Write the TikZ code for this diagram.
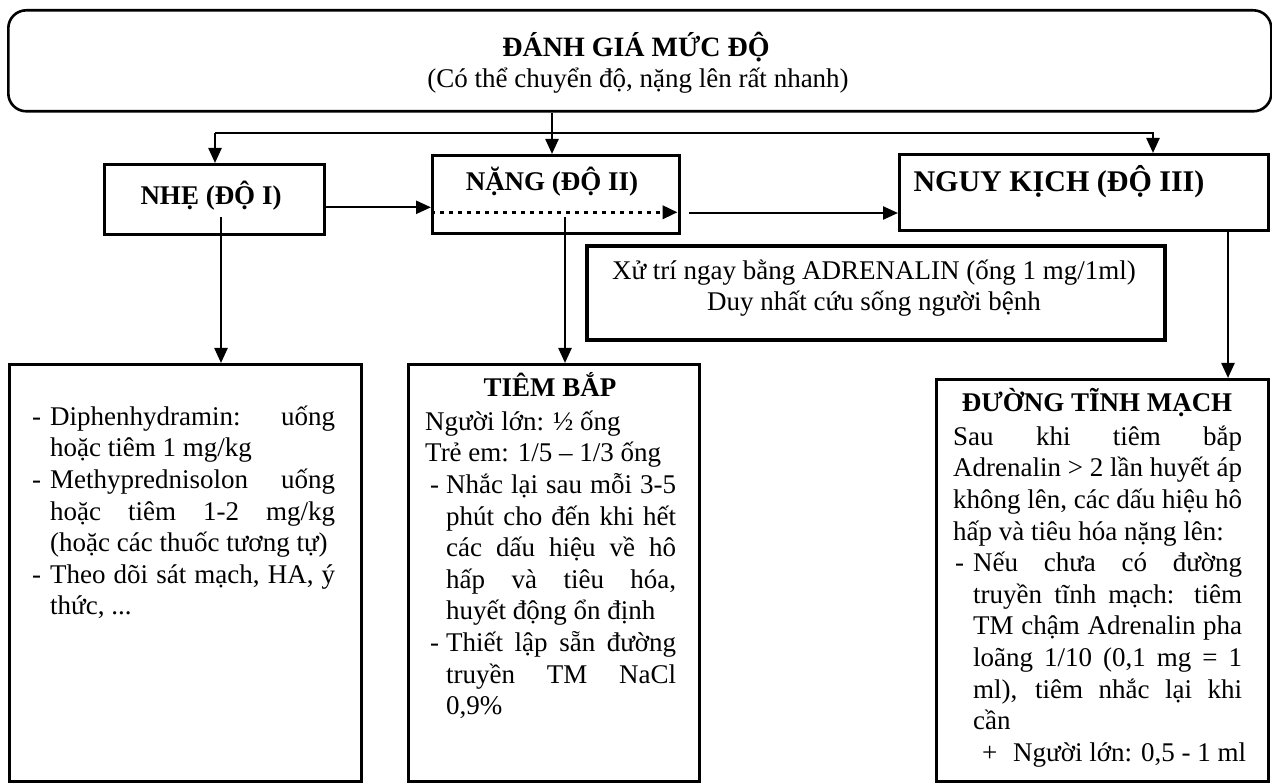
\documentclass[tikz,border=0pt]{standalone}
\usepackage{fontspec}
\setmainfont{Liberation Serif}
\usetikzlibrary{arrows.meta,calc}
\newcommand\tstrut{\rule{0pt}{28pt}}
\begin{document}
\begin{tikzpicture}[x=1pt,y=-1pt,
  box/.style={draw,line width=2.6pt,rectangle,inner sep=0pt,anchor=north west},
  arr/.style={line width=2.4pt,-{Triangle[length=15pt,width=13pt]}},
  dotarr/.style={line width=3.5pt,dash pattern=on 4pt off 5pt,-{Triangle[length=15pt,width=13pt]}},
  body/.style={font=\fontsize{27}{31.6}\selectfont,inner sep=0pt},
  head/.style={font=\fontsize{27}{31.6}\selectfont\bfseries,inner sep=0pt},
]
\useasboundingbox[fill=white] (0,0) rectangle (1272,783);

% boxes
\node[box,rounded corners=18pt,minimum width=1263,minimum height=101] (top) at (7,9) {};
\node[box,minimum width=220,minimum height=70] (nhe) at (103,163) {};
\node[box,minimum width=247,minimum height=78] (nang) at (431,154) {};
\node[box,minimum width=369,minimum height=76] (nguy) at (898,153) {};
\node[box,line width=3.6pt,minimum width=578,minimum height=94] (xuly) at (585,244) {};
\node[box,minimum width=352,minimum height=417] (mild) at (8,363) {};
\node[box,minimum width=291,minimum height=417] (im) at (407,363) {};
\node[box,minimum width=332,minimum height=402] (iv) at (935,378) {};

% texts
\node[head,anchor=base,font=\fontsize{28}{32}\selectfont\bfseries] (t1) at (636,57) {ĐÁNH GIÁ MỨC ĐỘ};
\node[body,anchor=base] (t2) at (638,88) {(Có thể chuyển độ, nặng lên rất nhanh)};
\node[head,anchor=base] (l1) at (211,205) {NHẸ (ĐỘ I)};
\node[head,anchor=base] (l2) at (552,191) {NẶNG (ĐỘ II)};
\node[head,anchor=base,font=\fontsize{30}{32}\selectfont\bfseries] (l3) at (1059,192) {NGUY KỊCH (ĐỘ III)};
\node[body,anchor=north,align=center] (xt) at (874,251)
  {\tstrut Xử trí ngay bằng ADRENALIN (ống 1 mg/1ml)\\Duy nhất cứu sống người bệnh};

\node[body,anchor=north west,align=left] (mt) at (32,397) {%
\tstrut\makebox[18pt][l]{-}\makebox[285pt][s]{Diphenhydramin: uống}\\
\makebox[18pt]{}hoặc tiêm 1 mg/kg\\
\makebox[18pt][l]{-}\makebox[285pt][s]{Methyprednisolon uống}\\
\makebox[18pt]{}\makebox[285pt][s]{hoặc tiêm 1-2 mg/kg}\\
\makebox[18pt]{}(hoặc các thuốc tương tự)\\
\makebox[18pt][l]{-}\makebox[285pt][s]{Theo dõi sát mạch, HA, ý}\\
\makebox[18pt]{}thức, ...};

\node[head,anchor=base] (it) at (550,397) {TIÊM BẮP};
\node[body,anchor=north west,align=left] (ib) at (425,402) {%
\tstrut Người lớn: ½ ống\\
Trẻ em: 1/5 – 1/3 ống\\
\makebox[5pt]{}\makebox[16pt][l]{-}\makebox[230pt][s]{Nhắc lại sau mỗi 3-5}\\
\makebox[21pt]{}\makebox[230pt][s]{phút cho đến khi hết}\\
\makebox[21pt]{}\makebox[230pt][s]{các dấu hiệu về hô}\\
\makebox[21pt]{}\makebox[230pt][s]{hấp và tiêu hóa,}\\
\makebox[21pt]{}huyết động ổn định\\
\makebox[5pt]{}\makebox[16pt][l]{-}\makebox[230pt][s]{Thiết lập sẵn đường}\\
\makebox[21pt]{}\makebox[230pt][s]{truyền TM NaCl}\\
\makebox[21pt]{}0,9\%};

\node[head,anchor=base] (vt) at (1097,412) {ĐƯỜNG TĨNH MẠCH};
\node[body,anchor=north west,align=left] (vb) at (953,417) {%
\tstrut\makebox[289pt][s]{Sau khi tiêm bắp}\\
\makebox[289pt][s]{Adrenalin > 2 lần huyết áp}\\
\makebox[289pt][s]{không lên, các dấu hiệu hô}\\
hấp và tiêu hóa nặng lên:\\
\makebox[2pt]{}\makebox[18pt][l]{-}\makebox[269pt][s]{Nếu chưa có đường}\\
\makebox[20pt]{}\makebox[269pt][s]{truyền tĩnh mạch: tiêm}\\
\makebox[20pt]{}\makebox[269pt][s]{TM chậm Adrenalin pha}\\
\makebox[20pt]{}\makebox[269pt][s]{loãng 1/10 (0,1 mg = 1}\\
\makebox[20pt]{}\makebox[269pt][s]{ml), tiêm nhắc lại khi}\\
\makebox[20pt]{}cần\\
\makebox[29pt]{}\makebox[31pt][l]{+}Người lớn: 0,5 - 1 ml};

% connectors
\coordinate (busL) at (215,133);
\coordinate (busM) at (552,133);
\coordinate (busR) at (1153,133);
\draw[arr] (top.south -| busM) -- (busM |- nang.north);
\draw[arr] (busL) -- (busL |- nhe.north);
\draw[arr] (busL) -- (busR) -- (busR |- nguy.north);
\draw[arr] ([yshift=-8pt]nhe.east) -- ([yshift=-8pt]nhe.east -| nang.west);
\draw[dotarr] ([yshift=-18pt]nang.west) -- ([xshift=-3pt,yshift=-18pt]nang.east);
\coordinate (s1) at (689,213);
\draw[arr] (s1) -- (s1 -| nguy.west);
\coordinate (d1) at (221,217);
\draw[arr] (d1) -- (d1 |- mild.north);
\coordinate (d2) at (565,217);
\draw[arr] (d2) -- (d2 |- im.north);
\coordinate (d3) at (1228,229);
\draw[arr] (d3 |- nguy.south) -- (d3 |- iv.north);
\end{tikzpicture}
\end{document}
